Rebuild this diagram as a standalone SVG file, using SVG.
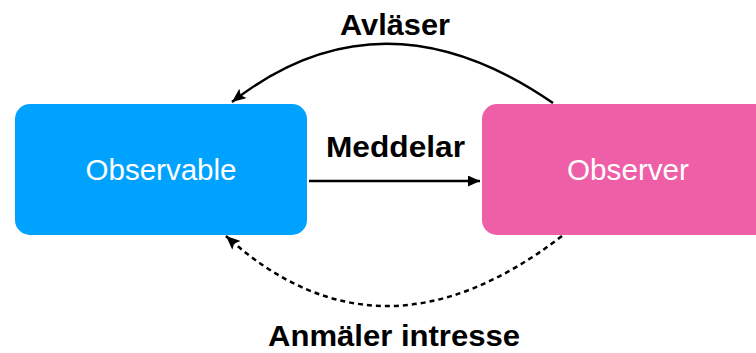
<svg xmlns="http://www.w3.org/2000/svg" width="756" height="353" viewBox="0 0 756 353">
  <style>
    .box-label { font-family: "Liberation Sans", Arial, sans-serif; font-size: 29px; fill: #ffffff; text-anchor: middle; }
    .edge-label { font-family: "Liberation Sans", Arial, sans-serif; font-size: 29px; font-weight: bold; fill: #000000; text-anchor: middle; }
    .edge { fill: none; stroke: #000000; stroke-width: 2.5; }
    .dashed { stroke-dasharray: 5 4; }
  </style>
  <defs>
    <marker id="head-notch" markerUnits="userSpaceOnUse" markerWidth="14" markerHeight="12" viewBox="0 0 14 12" refX="14" refY="6" orient="auto">
      <path d="M0,0 L14,6 L0,12 L3,6 Z" fill="#000000"/>
    </marker>
    <marker id="head-plain" markerUnits="userSpaceOnUse" markerWidth="12" markerHeight="11" viewBox="0 0 12 11" refX="12" refY="5.5" orient="auto">
      <path d="M0,0 L12,5.5 L0,11 Z" fill="#000000"/>
    </marker>
  </defs>

  <!-- nodes -->
  <g id="observable">
    <rect x="15" y="104" width="292" height="131" rx="15" ry="15" fill="#00A2FF"/>
    <text class="box-label" x="161" y="180" textLength="151" lengthAdjust="spacingAndGlyphs">Observable</text>
  </g>
  <g id="observer">
    <rect x="482" y="104" width="300" height="131" rx="15" ry="15" fill="#EE5FA7"/>
    <text class="box-label" x="628" y="180" textLength="122" lengthAdjust="spacingAndGlyphs">Observer</text>
  </g>

  <!-- connectors -->
  <g id="connectors">
    <path class="edge" d="M553,103 Q382,-15 232,102" marker-end="url(#head-notch)"/>
    <path class="edge" d="M309,181 L480,181" marker-end="url(#head-plain)"/>
    <path class="edge dashed" d="M562,236 Q380,376 226,236" marker-end="url(#head-notch)"/>
  </g>

  <!-- connector labels -->
  <g id="labels">
    <text class="edge-label" x="395" y="35" textLength="110" lengthAdjust="spacingAndGlyphs">Avläser</text>
    <text class="edge-label" x="395.5" y="157" textLength="139" lengthAdjust="spacingAndGlyphs">Meddelar</text>
    <text class="edge-label" x="394" y="346" textLength="252" lengthAdjust="spacingAndGlyphs">Anmäler intresse</text>
  </g>
</svg>
